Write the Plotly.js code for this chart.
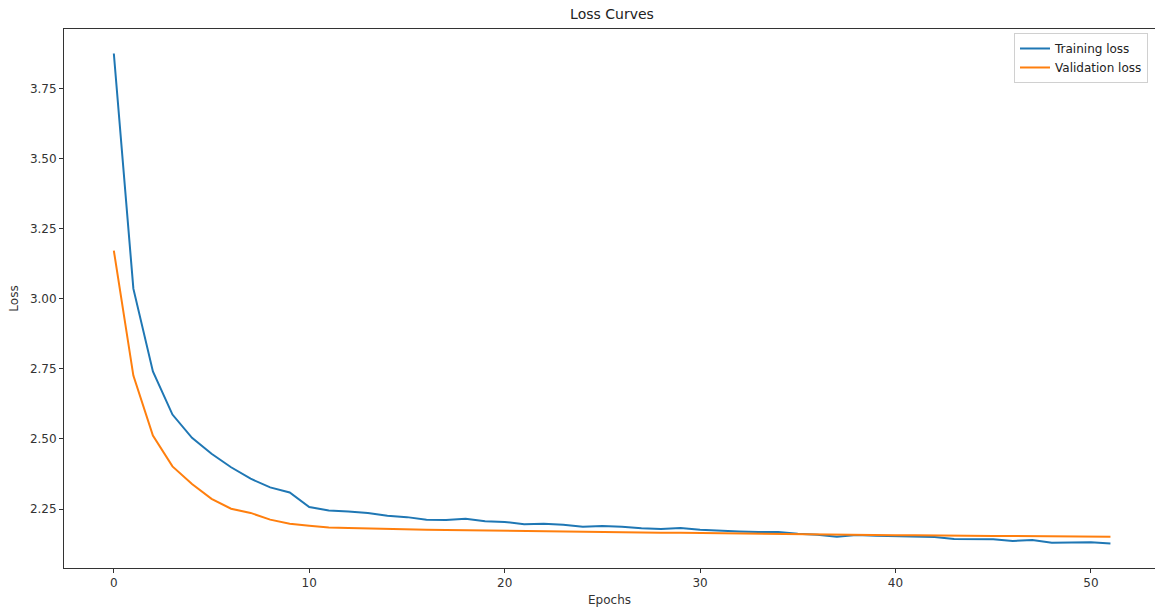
<!DOCTYPE html>
<html>
<head>
<meta charset="utf-8">
<script src="https://cdn.plot.ly/plotly-3.0.1.min.js"></script>
<style>
  html, body { margin: 0; padding: 0; overflow: hidden; background: #fff; }
  #chart { width: 1155px; height: 610px; }
</style>
</head>
<body>
<div id="chart"></div>
<script>
// Per-epoch loss history
const epochs = [0, 1, 2, 3, 4, 5, 6, 7, 8, 9, 10, 11, 12, 13, 14, 15, 16, 17, 18, 19,
  20, 21, 22, 23, 24, 25, 26, 27, 28, 29, 30, 31, 32, 33, 34, 35, 36, 37, 38, 39,
  40, 41, 42, 43, 44, 45, 46, 47, 48, 49, 50, 51];

const trainingLoss = [3.875, 3.036, 2.741, 2.587, 2.504, 2.447, 2.399, 2.358, 2.327, 2.309,
  2.257, 2.245, 2.241, 2.236, 2.226, 2.221, 2.212, 2.211, 2.215, 2.206,
  2.204, 2.196, 2.197, 2.194, 2.187, 2.189, 2.187, 2.181, 2.179, 2.182,
  2.176, 2.172, 2.170, 2.168, 2.168, 2.162, 2.158, 2.151, 2.157, 2.155,
  2.154, 2.151, 2.150, 2.143, 2.142, 2.142, 2.136, 2.139, 2.130, 2.131,
  2.131, 2.127];

const validationLoss = [3.172, 2.726, 2.512, 2.402, 2.339, 2.286, 2.251, 2.236, 2.212, 2.197,
  2.190, 2.184, 2.182, 2.180, 2.179, 2.178, 2.176, 2.175, 2.174, 2.173,
  2.171, 2.171, 2.170, 2.169, 2.169, 2.168, 2.167, 2.166, 2.165, 2.165,
  2.164, 2.164, 2.163, 2.163, 2.162, 2.161, 2.160, 2.158, 2.158, 2.157,
  2.156, 2.156, 2.155, 2.155, 2.154, 2.154, 2.154, 2.153, 2.152, 2.151,
  2.151, 2.151];

const xTicks = [0, 10, 20, 30, 40, 50];
const yTicks = [2.25, 2.50, 2.75, 3.00, 3.25, 3.50, 3.75];

const FONT = 'DejaVu Sans, sans-serif';
const INK = '#333333';

const traces = [
  {
    x: epochs, y: trainingLoss, type: 'scatter', mode: 'lines',
    name: 'Training loss',
    line: { color: '#1f77b4', width: 2 }
  },
  {
    x: epochs, y: validationLoss, type: 'scatter', mode: 'lines',
    name: 'Validation loss',
    line: { color: '#ff7f0e', width: 2 }
  }
];

const axisCommon = {
  showgrid: false, zeroline: false,
  showline: true, linecolor: INK, linewidth: 1,
  ticks: 'outside', ticklen: 4, tickwidth: 1, tickcolor: INK,
  tickfont: { family: FONT, size: 12, color: INK }
};

const layout = {
  width: 1155, height: 610,
  margin: { l: 64, r: 0, t: 29, b: 42 },
  paper_bgcolor: '#ffffff', plot_bgcolor: '#ffffff',
  font: { family: FONT, color: INK },
  title: {
    text: 'Loss Curves',
    font: { family: FONT, size: 14, color: '#222' },
    x: (612 / 1155), xanchor: 'center', y: 0.985, yanchor: 'top'
  },
  // the frame runs past the right edge, so only the top mirror is drawn
  xaxis: Object.assign({}, axisCommon, {
    mirror: true,
    range: [-2.55, 53.28],
    tickvals: xTicks, ticktext: xTicks.map(String),
    title: { text: 'Epochs', font: { family: FONT, size: 12, color: INK }, standoff: 6 }
  }),
  yaxis: Object.assign({}, axisCommon, {
    mirror: false,
    range: [2.0395, 3.9625],
    tickvals: yTicks, ticktext: yTicks.map(v => v.toFixed(2)),
    title: { text: 'Loss', font: { family: FONT, size: 12, color: INK }, standoff: 8 }
  }),
  showlegend: true,
  legend: {
    x: (1148 - 64) / 1091, xanchor: 'right', y: 0.9926, yanchor: 'top',
    bgcolor: 'rgba(255,255,255,0.8)', bordercolor: '#d0d0d0', borderwidth: 1,
    font: { family: FONT, size: 12, color: '#222' },
    tracegroupgap: 0
  }
};

Plotly.newPlot('chart', traces, layout, { displayModeBar: false, staticPlot: true });
</script>
</body>
</html>
